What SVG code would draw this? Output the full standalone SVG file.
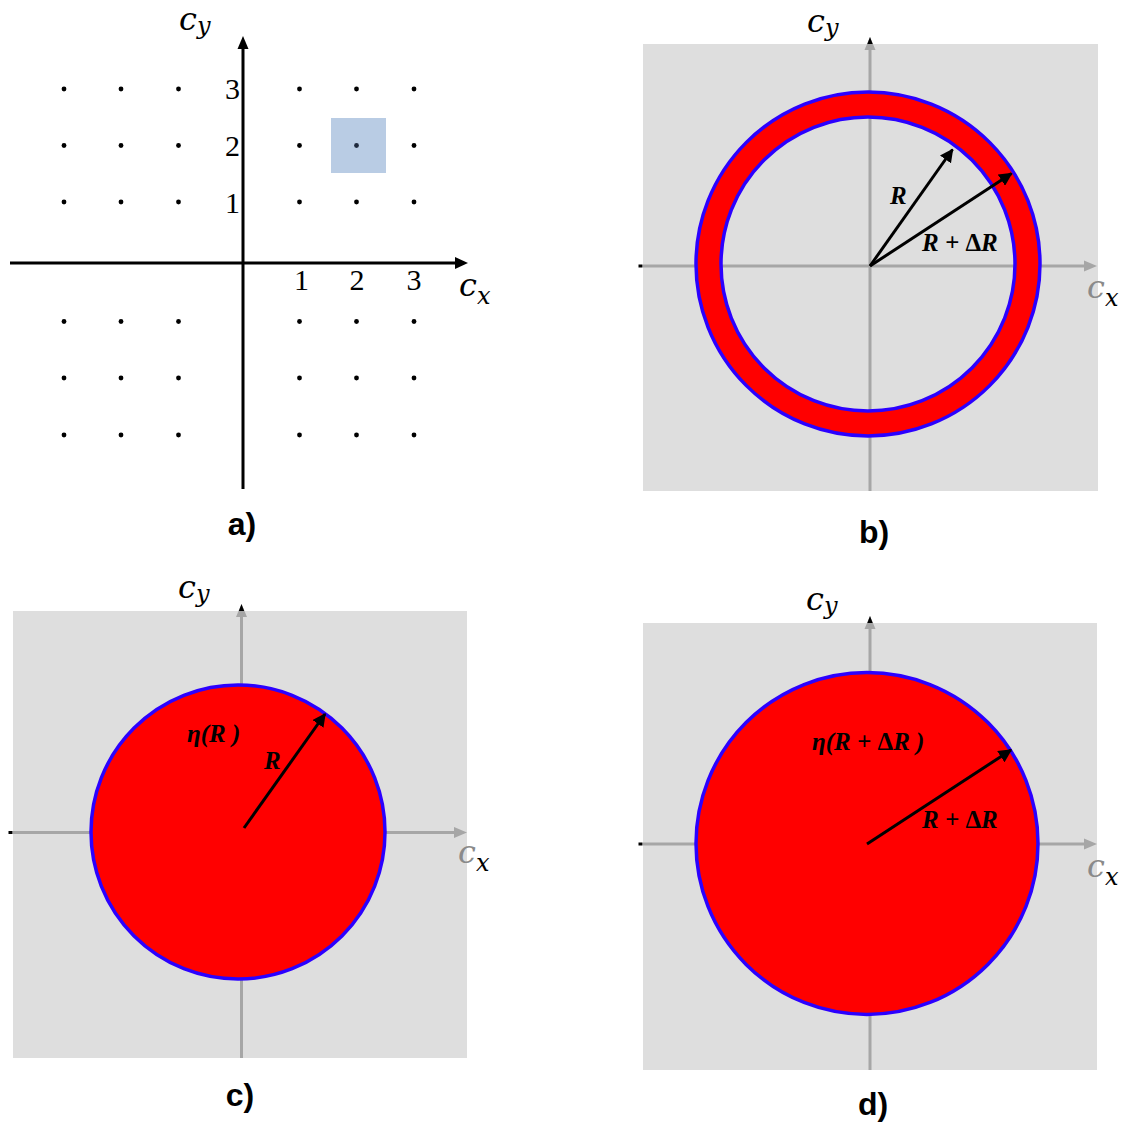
<svg xmlns="http://www.w3.org/2000/svg" width="1128" height="1124" viewBox="0 0 1128 1124">
<style>
.bg{fill:#dedede}
.gax{stroke:#a6a6a6;stroke-width:3;fill:none}
.gah{fill:#a6a6a6}
.bax{stroke:#000;stroke-width:3;fill:none}
.dot{fill:#000}
.disc{fill:#ff0000;stroke:#2b00ff;stroke-width:3.5}
.ring{fill:#ff0000;fill-rule:evenodd;stroke:#2b00ff;stroke-width:3.5}
.arr{stroke:#000;stroke-width:3;fill:none;marker-end:url(#ah)}
.num{font-family:"Liberation Serif",serif;font-size:30px;fill:#000}
.var{font-family:"DejaVu Serif",serif;font-style:italic;font-size:32px;fill:#000}
.sub{font-size:24px}
.lab{font-family:"Liberation Serif",serif;font-style:italic;font-weight:bold;font-size:25px;fill:#000}
.up{font-style:normal}
.cap{font-family:"Liberation Sans",Arial,sans-serif;font-weight:bold;font-size:32px;fill:#000;text-anchor:middle}
</style>
<defs>
<marker id="ah" viewBox="0 0 10 10" refX="9" refY="5" markerWidth="4.5" markerHeight="4.5" markerUnits="strokeWidth" orient="auto">
<path d="M0,0 L10,5 L0,10 z" fill="#000"/>
</marker>
</defs>
<rect width="1128" height="1124" fill="#fff"/>

<!-- Panel a -->
<g id="panel-a">
<rect x="331" y="118" width="55" height="55" fill="#b9cce4"/>
<g id="axes-a">
<line class="bax" x1="10" y1="263" x2="457" y2="263"/>
<polygon points="468,263 455,257 455,269" fill="#000"/>
<line class="bax" x1="243" y1="489" x2="243" y2="47"/>
<polygon points="243,36 237.5,49 248.5,49" fill="#000"/>
</g>
<g id="dots-a">
<circle class="dot" cx="64" cy="89" r="2.4"/><circle class="dot" cx="121" cy="89" r="2.4"/><circle class="dot" cx="178.5" cy="89" r="2.4"/>
<circle class="dot" cx="299.5" cy="89" r="2.4"/><circle class="dot" cx="356.5" cy="89" r="2.4"/><circle class="dot" cx="414" cy="89" r="2.4"/>
<circle class="dot" cx="64" cy="145.5" r="2.4"/><circle class="dot" cx="121" cy="145.5" r="2.4"/><circle class="dot" cx="178.5" cy="145.5" r="2.4"/>
<circle class="dot" cx="299.5" cy="145.5" r="2.4"/><circle cx="356.5" cy="145.5" r="2.4" fill="#1f2a3d"/><circle class="dot" cx="414" cy="145.5" r="2.4"/>
<circle class="dot" cx="64" cy="202" r="2.4"/><circle class="dot" cx="121" cy="202" r="2.4"/><circle class="dot" cx="178.5" cy="202" r="2.4"/>
<circle class="dot" cx="299.5" cy="202" r="2.4"/><circle class="dot" cx="356.5" cy="202" r="2.4"/><circle class="dot" cx="414" cy="202" r="2.4"/>
<circle class="dot" cx="64" cy="321.5" r="2.4"/><circle class="dot" cx="121" cy="321.5" r="2.4"/><circle class="dot" cx="178.5" cy="321.5" r="2.4"/>
<circle class="dot" cx="299.5" cy="321.5" r="2.4"/><circle class="dot" cx="356.5" cy="321.5" r="2.4"/><circle class="dot" cx="414" cy="321.5" r="2.4"/>
<circle class="dot" cx="64" cy="378" r="2.4"/><circle class="dot" cx="121" cy="378" r="2.4"/><circle class="dot" cx="178.5" cy="378" r="2.4"/>
<circle class="dot" cx="299.5" cy="378" r="2.4"/><circle class="dot" cx="356.5" cy="378" r="2.4"/><circle class="dot" cx="414" cy="378" r="2.4"/>
<circle class="dot" cx="64" cy="435" r="2.4"/><circle class="dot" cx="121" cy="435" r="2.4"/><circle class="dot" cx="178.5" cy="435" r="2.4"/>
<circle class="dot" cx="299.5" cy="435" r="2.4"/><circle class="dot" cx="356.5" cy="435" r="2.4"/><circle class="dot" cx="414" cy="435" r="2.4"/>
</g>
<text class="num" x="240" y="99" text-anchor="end">3</text>
<text class="num" x="240" y="155.5" text-anchor="end">2</text>
<text class="num" x="240" y="212.5" text-anchor="end">1</text>
<text class="num" x="301.5" y="290" text-anchor="middle">1</text>
<text class="num" x="357" y="290" text-anchor="middle">2</text>
<text class="num" x="414" y="290" text-anchor="middle">3</text>
<text class="var" x="179" y="30">c<tspan class="sub" dy="4">y</tspan></text>
<text class="var" x="459" y="296">c<tspan class="sub" dy="8">x</tspan></text>
<text class="cap" x="242" y="535">a)</text>
</g>

<!-- Panel b -->
<g id="panel-b">
<rect class="bg" x="643" y="44" width="455" height="447"/>
<g id="axes-b">
<line class="gax" x1="643" y1="266" x2="1086" y2="266"/>
<polygon class="gah" points="1097,266 1084,260.5 1084,271.5"/>
<line class="gax" x1="870" y1="491" x2="870" y2="48"/>
<polygon class="gah" points="870,37 864.5,50 875.5,50"/>
<polygon points="870,37 867.3,44 872.7,44" fill="#000"/>
<rect x="638.5" y="264.5" width="4" height="3" fill="#000"/>
</g>
<path class="ring" d="M696,264 a172,172 0 1,0 344,0 a172,172 0 1,0 -344,0 Z M721,264 a147,147 0 1,0 294,0 a147,147 0 1,0 -294,0 Z"/>
<g id="connectors-b">
<line class="arr" x1="870" y1="266" x2="952.5" y2="149.5"/>
<line class="arr" x1="870" y1="266" x2="1011.5" y2="173.5"/>
</g>
<text class="lab" x="890" y="204">R</text>
<text class="lab" x="922" y="251">R + <tspan class="up">Δ</tspan>R</text>
<text class="var" x="807" y="32">c<tspan class="sub" dy="4">y</tspan></text>
<text class="var" x="1087" y="298"><tspan fill="#8a8a8a">c</tspan><tspan class="sub" dy="8">x</tspan></text>
<text class="cap" x="874" y="543">b)</text>
</g>

<!-- Panel c -->
<g id="panel-c">
<rect class="bg" x="13" y="611" width="454" height="447"/>
<g id="axes-c">
<line class="gax" x1="13" y1="832.5" x2="456" y2="832.5"/>
<polygon class="gah" points="467,832.5 454,827 454,838"/>
<line class="gax" x1="241.5" y1="1058" x2="241.5" y2="615"/>
<polygon class="gah" points="241.5,604 236,617 247,617"/>
<polygon points="241.5,604 238.8,611 244.2,611" fill="#000"/>
<rect x="8.5" y="831" width="4" height="3" fill="#000"/>
</g>
<circle class="disc" cx="238" cy="832" r="147"/>
<g id="connectors-c">
<line class="arr" x1="244" y1="828" x2="325" y2="714"/>
</g>
<text class="lab" x="187" y="742">η(R )</text>
<text class="lab" x="264" y="769">R</text>
<text class="var" x="178" y="598">c<tspan class="sub" dy="4">y</tspan></text>
<text class="var" x="458" y="863"><tspan fill="#8a8a8a">c</tspan><tspan class="sub" dy="8">x</tspan></text>
<text class="cap" x="240" y="1106">c)</text>
</g>

<!-- Panel d -->
<g id="panel-d">
<rect class="bg" x="643" y="623" width="454" height="447"/>
<g id="axes-d">
<line class="gax" x1="643" y1="844" x2="1086" y2="844"/>
<polygon class="gah" points="1097,844 1084,838.5 1084,849.5"/>
<line class="gax" x1="870" y1="1070" x2="870" y2="627"/>
<polygon class="gah" points="870,616 864.5,629 875.5,629"/>
<polygon points="870,616 867.3,623 872.7,623" fill="#000"/>
<rect x="638.5" y="842.5" width="4" height="3" fill="#000"/>
</g>
<circle class="disc" cx="867" cy="843.5" r="171"/>
<g id="connectors-d">
<line class="arr" x1="867" y1="844" x2="1011" y2="750"/>
</g>
<text class="lab" x="812" y="750">η(R + <tspan class="up">Δ</tspan>R )</text>
<text class="lab" x="922" y="828">R + <tspan class="up">Δ</tspan>R</text>
<text class="var" x="806" y="610">c<tspan class="sub" dy="4">y</tspan></text>
<text class="var" x="1087" y="877"><tspan fill="#8a8a8a">c</tspan><tspan class="sub" dy="8">x</tspan></text>
<text class="cap" x="873" y="1115">d)</text>
</g>
</svg>
